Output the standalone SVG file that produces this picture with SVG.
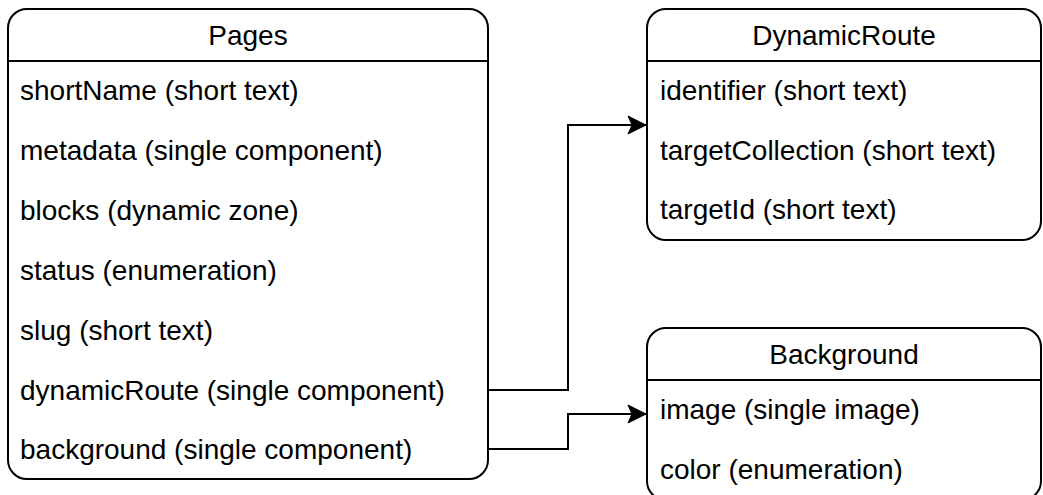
<svg xmlns="http://www.w3.org/2000/svg" width="1043" height="495" viewBox="0 0 1043 495">
<style>
.box{fill:#fff;stroke:#000;stroke-width:2}
.sep{stroke:#000;stroke-width:2}
.t{font-family:"Liberation Sans",Arial,sans-serif;font-size:28px;fill:#000}
.h{text-anchor:middle}
.edge{fill:none;stroke:#000;stroke-width:2}
</style>
<defs>
<marker id="arr" markerUnits="userSpaceOnUse" markerWidth="20" markerHeight="20" viewBox="0 0 20 20" refX="19" refY="10" orient="auto">
<path d="M19,10 L1,1 L5,10 L1,19 Z" fill="#000" stroke="#000" stroke-width="1"/>
</marker>
</defs>
<g id="edges">
<path class="edge" d="M489,390 H568 V125 H646" marker-end="url(#arr)"/>
<path class="edge" d="M489,449 H568 V414 H646" marker-end="url(#arr)"/>
</g>
<g id="pages">
<rect class="box" x="8" y="9" width="480" height="470" rx="19"/>
<line class="sep" x1="8" y1="61" x2="488" y2="61"/>
<text class="t h" x="248" y="45">Pages</text>
<text class="t" x="20" y="100">shortName (short text)</text>
<text class="t" x="20" y="160">metadata (single component)</text>
<text class="t" x="20" y="219.5">blocks (dynamic zone)</text>
<text class="t" x="20" y="279.5">status (enumeration)</text>
<text class="t" x="20" y="339.5">slug (short text)</text>
<text class="t" x="20" y="399.5">dynamicRoute (single component)</text>
<text class="t" x="20" y="459">background (single component)</text>
</g>
<g id="dynamicroute">
<rect class="box" x="647" y="9" width="394" height="231" rx="19"/>
<line class="sep" x1="647" y1="61" x2="1041" y2="61"/>
<text class="t h" x="844" y="45">DynamicRoute</text>
<text class="t" x="660" y="100">identifier (short text)</text>
<text class="t" x="660" y="160">targetCollection (short text)</text>
<text class="t" x="660" y="219">targetId (short text)</text>
</g>
<g id="background">
<rect class="box" x="647" y="328" width="394" height="172" rx="19"/>
<line class="sep" x1="647" y1="380" x2="1041" y2="380"/>
<text class="t h" x="844" y="364">Background</text>
<text class="t" x="660" y="419">image (single image)</text>
<text class="t" x="660" y="479">color (enumeration)</text>
</g>
</svg>
